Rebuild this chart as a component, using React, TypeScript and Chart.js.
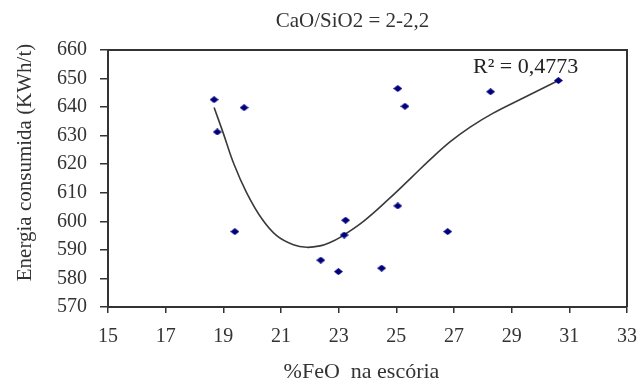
import React, { useEffect, useRef } from "react";
import { Chart, registerables } from "chart.js";

Chart.register(...registerables);

const feoValues = [18.68, 19.72, 18.79, 19.4, 23.24, 23.19, 22.38, 22.99, 24.49, 25.05, 25.3, 28.27, 30.62, 25.05, 26.78];
const energyValues = [642.6, 639.8, 631.3, 596.4, 600.4, 595.2, 586.4, 582.4, 583.6, 646.5, 640.3, 645.4, 649.3, 605.4, 596.4];

const trendX = [18.68, 19.0, 19.37, 19.81, 20.33, 20.85, 21.43, 21.89, 22.35, 22.7, 23.05, 23.86, 24.78, 25.53, 26.17, 26.86, 27.56, 28.36, 29.4, 30.62];
const trendY = [639.9, 630.8, 620.0, 610.0, 601.0, 595.0, 591.8, 590.9, 591.4, 592.6, 594.4, 600.0, 608.2, 615.4, 621.6, 627.8, 633.0, 637.9, 643.2, 649.3];

const xMin = 15;
const xMax = 33;
const xStep = 2;
const yMin = 570;
const yMax = 660;
const yStep = 10;

const chartTitle = "CaO/SiO2 = 2-2,2";
const xTitle = "%FeO  na escória";
const yTitle = "Energia consumida (KWh/t)";
const r2Label = "R² = 0,4773";

const FONT = "'Liberation Serif', 'Times New Roman', serif";
const INK = "#333333";
const MARK = "#00007f";

function makeDiamond(): HTMLCanvasElement {
  const c = document.createElement("canvas");
  c.width = 9;
  c.height = 7;
  const g = c.getContext("2d")!;
  g.fillStyle = MARK;
  g.beginPath();
  g.moveTo(4.5, 0);
  g.lineTo(9, 3.5);
  g.lineTo(4.5, 7);
  g.lineTo(0, 3.5);
  g.closePath();
  g.fill();
  return c;
}

const decorPlugin = {
  id: "decor",
  afterDraw(chart: any) {
    const { ctx, chartArea } = chart;
    const midX = (chartArea.left + chartArea.right) / 2;
    ctx.save();
    // top and right frame
    ctx.strokeStyle = INK;
    ctx.lineWidth = 2;
    ctx.beginPath();
    ctx.moveTo(chartArea.left, chartArea.top);
    ctx.lineTo(chartArea.right, chartArea.top);
    ctx.lineTo(chartArea.right, chartArea.bottom);
    ctx.stroke();

    ctx.fillStyle = INK;
    ctx.textBaseline = "alphabetic";
    ctx.textAlign = "center";
    // chart title
    ctx.font = `21px ${FONT}`;
    ctx.fillText(chartTitle, midX - 15, 27);
    // x title
    ctx.font = `22px ${FONT}`;
    ctx.fillText(xTitle, midX - 6, 378);
    // y title
    ctx.save();
    ctx.font = `21px ${FONT}`;
    ctx.translate(25, (chartArea.top + chartArea.bottom) / 2 - 16);
    ctx.rotate(-Math.PI / 2);
    ctx.textBaseline = "middle";
    ctx.fillText(yTitle, 0, 0);
    ctx.restore();
    // R² label
    ctx.fillStyle = "#222222";
    ctx.font = `22px ${FONT}`;
    ctx.textAlign = "left";
    ctx.fillText(r2Label, chartArea.right - 154, chartArea.top + 23);
    ctx.restore();
  },
};

export default function App() {
  const canvasRef = useRef<HTMLCanvasElement | null>(null);

  useEffect(() => {
    document.body.style.margin = "0";
    const canvas = canvasRef.current;
    if (!canvas) return;
    const points = feoValues.map((x, i) => ({ x, y: energyValues[i] }));
    const trend = trendX.map((x, i) => ({ x, y: trendY[i] }));
    const diamond = makeDiamond();
    const chart = new Chart(canvas, {
      type: "scatter",
      data: {
        datasets: [
          {
            label: "trend",
            data: trend,
            showLine: true,
            borderColor: "#3a3a3a",
            borderWidth: 1.6,
            pointRadius: 0,
            tension: 0.4,
            order: 2,
          } as any,
          {
            label: "data",
            data: points,
            pointStyle: diamond,
            pointRadius: 4,
            backgroundColor: MARK,
            borderColor: MARK,
            borderWidth: 0,
            order: 1,
          },
        ],
      },
      options: {
        responsive: false,
        animation: false,
        events: [],
        layout: { padding: { top: 50, right: 11, left: 0, bottom: 0 } },
        plugins: {
          legend: { display: false },
          title: { display: false },
          tooltip: { enabled: false },
        },
        scales: {
          x: {
            type: "linear",
            min: xMin,
            max: xMax,
            afterFit(scale: any) {
              scale.height = 76;
              scale.paddingRight = 0;
              scale.paddingLeft = 0;
            },
            ticks: {
              stepSize: xStep,
              color: INK,
              padding: 12,
              maxRotation: 0,
              font: { family: FONT, size: 20 },
            },
            grid: {
              drawOnChartArea: false,
              drawTicks: true,
              tickLength: 6,
              color: INK,
              lineWidth: 1.5,
            },
            border: { display: true, color: INK, width: 2 },
          },
          y: {
            type: "linear",
            min: yMin,
            max: yMax,
            afterFit(scale: any) {
              scale.width = 108;
              scale.paddingTop = 0;
              scale.paddingBottom = 0;
            },
            ticks: {
              stepSize: yStep,
              color: INK,
              padding: 13,
              font: { family: FONT, size: 20 },
            },
            grid: {
              drawOnChartArea: false,
              drawTicks: true,
              tickLength: 8,
              color: INK,
              lineWidth: 1.5,
            },
            border: { display: true, color: INK, width: 2 },
          },
        },
      },
      plugins: [decorPlugin],
    });
    return () => chart.destroy();
  }, []);

  return (
    <div style={{ width: 638, height: 383, background: "#ffffff" }}>
      <canvas ref={canvasRef} width={638} height={383} style={{ display: "block" }} />
    </div>
  );
}
